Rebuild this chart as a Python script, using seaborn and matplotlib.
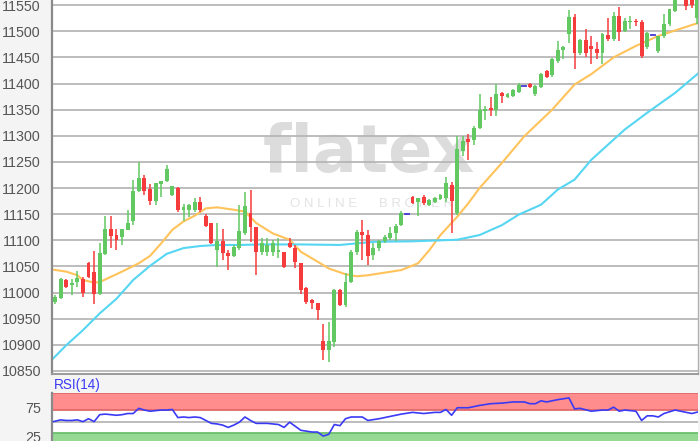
import numpy as np
import pandas as pd
import seaborn as sns
import matplotlib
matplotlib.use("Agg")
import matplotlib.pyplot as plt

# ---------------- data ----------------
opens = [10982, 10990, 11024, 11014, 11020, 11025, 11056, 11040, 10998, 11074,
         11121, 11110, 11106, 11120, 11136, 11195, 11219, 11199, 11176, 11208,
         11213, 11186, 11200, 11157, 11157, 11157, 11173, 11147, 11133, 11081,
         11099, 11076, 11070, 11085, 11113, 11152, 11126, 11078, 11078, 11078,
         11078, 11078, 11095, 11086, 11056, 11008, 10986, 10979, 10908, 10890,
         10905, 11004, 10976, 11021, 11078, 11115, 11110, 11072, 11085, 11098,
         11104, 11113, 11130, 11150, 11183, 11174, 11182, 11168, 11174, 11179,
         11180, 11206, 11152, 11271, 11294, 11292, 11315, 11347, 11354, 11350,
         11381, 11375, 11377, 11384, 11396, 11399, 11379, 11394, 11424, 11416,
         11443, 11464, 11494, 11528, 11458, 11483, 11472, 11466, 11459, 11492,
         11485, 11530, 11501, 11518, 11520, 11518, 11469, 11493, 11462, 11491,
         11514, 11539, 11575, 11575, 11560, 11525]
highs = [10996, 11027, 11026, 11025, 11042, 11030, 11058, 11080, 11094, 11147,
         11147, 11121, 11121, 11158, 11216, 11249, 11224, 11208, 11210, 11214,
         11244, 11203, 11201, 11170, 11170, 11180, 11183, 11150, 11133, 11133,
         11121, 11081, 11091, 11168, 11192, 11197, 11126, 11104, 11104, 11100,
         11104, 11078, 11104, 11091, 11056, 11011, 10988, 10979, 10940, 10944,
         11007, 11007, 11037, 11081, 11120, 11139, 11120, 11095, 11100, 11110,
         11126, 11131, 11156, 11151, 11185, 11181, 11187, 11179, 11182, 11188,
         11222, 11212, 11299, 11299, 11303, 11318, 11379, 11356, 11375, 11399,
         11383, 11381, 11389, 11401, 11397, 11401, 11398, 11421, 11426, 11449,
         11481, 11472, 11541, 11533, 11485, 11505, 11491, 11480, 11497, 11526,
         11537, 11546, 11526, 11529, 11523, 11522, 11499, 11494, 11491, 11533,
         11542, 11580, 11605, 11580, 11565, 11580]
lows = [10978, 10988, 11009, 10995, 11011, 10992, 11028, 10978, 10995, 11072,
        11085, 11081, 11090, 11120, 11130, 11192, 11186, 11167, 11167, 11183,
        11212, 11184, 11154, 11136, 11144, 11154, 11155, 11125, 11092, 11049,
        11062, 11043, 11068, 11081, 11110, 11097, 11033, 11072, 11069, 11070,
        11067, 11046, 11085, 11046, 10998, 10978, 10969, 10948, 10870, 10867,
        10895, 10974, 10972, 11018, 11072, 11062, 11053, 11062, 11080, 11094,
        11100, 11098, 11128, 11149, 11170, 11146, 11168, 11166, 11172, 11177,
        11174, 11113, 11149, 11261, 11254, 11283, 11312, 11330, 11338, 11338,
        11363, 11373, 11375, 11382, 11395, 11391, 11376, 11392, 11411, 11413,
        11440, 11447, 11478, 11427, 11455, 11450, 11437, 11447, 11437, 11482,
        11482, 11482, 11498, 11504, 11510, 11448, 11466, 11492, 11459, 11488,
        11511, 11537, 11570, 11540, 11545, 11514]
closes = [10992, 11025, 11011, 11019, 11027, 11000, 11030, 10998, 11076, 11121,
          11108, 11100, 11121, 11133, 11195, 11219, 11195, 11176, 11210, 11213,
          11237, 11203, 11157, 11163, 11167, 11173, 11157, 11127, 11094, 11099,
          11075, 11070, 11088, 11117, 11165, 11126, 11078, 11094, 11091, 11094,
          11081, 11048, 11088, 11059, 11004, 10982, 10979, 10967, 10890, 10908,
          11004, 10976, 11021, 11078, 11115, 11110, 11069, 11085, 11098, 11107,
          11113, 11128, 11153, 11150, 11172, 11180, 11172, 11177, 11180, 11186,
          11210, 11175, 11274, 11290, 11289, 11315, 11350, 11352, 11349, 11380,
          11377, 11379, 11387, 11398, 11396, 11393, 11395, 11419, 11413, 11446,
          11465, 11470, 11528, 11459, 11483, 11458, 11466, 11459, 11494, 11486,
          11530, 11498, 11520, 11520, 11517, 11452, 11497, 11493, 11491, 11514,
          11542, 11575, 11598, 11548, 11550, 11570]

ma_fast_idx = [-0.5, 2, 4, 5, 7, 8, 10, 12, 15, 17, 19, 21, 23, 25, 27, 29, 31, 34, 36,
               39, 42, 44, 47, 49, 52, 54, 56, 62, 65, 67, 69, 72, 74, 76, 80, 84,
               89, 93, 96, 100, 104, 108, 114, 115.2]
ma_fast_val = [11044, 11040, 11033, 11024, 11019, 11020, 11030, 11040, 11056, 11070,
               11094, 11120, 11136, 11147, 11161, 11163, 11160, 11155, 11133, 11113,
               11101, 11078, 11059, 11046, 11035, 11031, 11033, 11043, 11056, 11081,
               11110, 11145, 11171, 11200, 11248, 11299, 11350, 11398, 11418, 11450,
               11472, 11491, 11512, 11516]

ma_slow_idx = [-0.5, 2, 5, 8, 11, 14, 17, 20, 23, 26, 29, 33, 37, 44, 51, 57, 64, 72,
               76, 80, 83, 87, 90, 93, 96, 102, 106, 111, 115.2]
ma_slow_val = [10872, 10899, 10928, 10960, 10988, 11024, 11051, 11074, 11085, 11089,
               11091, 11091, 11092, 11092, 11091, 11097, 11098, 11101, 11110, 11129,
               11149, 11168, 11197, 11216, 11254, 11312, 11344, 11382, 11420]

rsi_idx = [-0.3, 1, 2, 3, 4, 5, 6, 7, 8, 9, 10, 11, 12, 13, 14, 15, 16, 17, 18, 19, 20,
           21, 22, 23, 24, 25, 26, 27, 28, 29, 30, 31, 32, 33, 34, 35, 36, 38, 40, 41,
           42, 44, 46, 47, 48, 49, 50, 51, 52, 53, 55, 56, 58, 60, 62, 64, 66, 68,
           69, 70, 71, 72, 74, 76, 78, 80, 82, 84, 85, 86, 87, 88, 90, 92, 93, 94,
           96, 98, 99, 100, 101, 102, 104, 105, 106, 107, 108, 109, 111, 112, 114, 115.2]
rsi_val = [50, 53, 52, 52, 53, 50, 55, 50, 62, 63, 62, 61, 62, 64, 64, 73, 70, 68, 69,
           70, 70, 71, 57, 58, 57, 58, 57, 52, 47, 46, 44, 40, 44, 49, 58, 52, 47, 47,
           45, 40, 49, 35, 32, 32, 25, 28, 45, 43, 55, 58, 58, 52, 55, 59, 63, 66, 64,
           66, 66, 71, 61, 74, 74, 78, 81, 82, 84, 84, 81, 81, 86, 84, 88, 91, 72, 73,
           68, 70, 70, 75, 68, 70, 68, 52, 60, 60, 58, 64, 70, 68, 64, 67]

price_ticks = [10850, 10900, 10950, 11000, 11050, 11100, 11150, 11200,
               11250, 11300, 11350, 11400, 11450, 11500, 11550]
rsi_ticks = [25, 75]

# ---------------- style ----------------
sns.set_theme(style="white")
plt.rcParams["font.family"] = ["Liberation Sans", "DejaVu Sans"]

GREEN = "#62c962"
RED = "#f53b3b"
DOJI = "#4a3fd0"
ORANGE = "#ffc35a"
CYAN = "#56d6f2"
RSI_BLUE = "#3a3af5"

df = pd.DataFrame({"open": opens, "high": highs, "low": lows, "close": closes})
df["idx"] = np.arange(len(df))
df["dir"] = np.where(df["close"] > df["open"], "up",
                     np.where(df["close"] < df["open"], "down", "flat"))
color_map = {"up": GREEN, "down": RED, "flat": DOJI}
df["color"] = df["dir"].map(color_map)

fig = plt.figure(figsize=(7.0, 4.41), dpi=100, facecolor="#f4f4f4")
W, H = 700.0, 441.0
ax = fig.add_axes([52 / W, 1 - 373.5 / H, (698 - 52) / W, 373.5 / H + 0.002])
ax2 = fig.add_axes([52 / W, 0, (698 - 52) / W, (441 - 392.7) / H])

# ---------------- main price panel ----------------
ax.set_facecolor("white")
ax.text(0.49, 0.585, "flatex", transform=ax.transAxes, fontsize=47,
        fontweight="bold", color="#dcdcdc", ha="center", va="center", zorder=0,
        family="DejaVu Sans")
ax.text(0.495, 0.452, "O N L I N E      B R O K E R", transform=ax.transAxes,
        fontsize=9.5, color="#e3e3e3", ha="center", va="center", zorder=0)

ax.vlines(df["idx"], df["low"], df["high"], colors=df["color"], lw=1.1, zorder=3)
body = df[df["dir"] != "flat"]
ax.bar(body["idx"], (body["close"] - body["open"]).abs(),
       bottom=body[["open", "close"]].min(axis=1), width=0.7,
       color=body["color"], linewidth=0, zorder=4)
flat = df[df["dir"] == "flat"]
ax.hlines(flat["close"], flat["idx"] - 0.5, flat["idx"] + 0.5, colors=DOJI,
          lw=1.3, zorder=4)

sns.lineplot(x=ma_fast_idx, y=ma_fast_val, ax=ax, color=ORANGE, lw=1.5, zorder=2)
sns.lineplot(x=ma_slow_idx, y=ma_slow_val, ax=ax, color=CYAN, lw=1.5, zorder=2)

ax.set_xlim(-0.54, 115.1)
ax.set_ylim(10845, 11561.5)
ax.set_yticks(price_ticks)
ax.set_xticks([])
ax.grid(axis="y", color="#b2b2b2", lw=1.2, zorder=1)
ax.set_axisbelow(True)
ax.tick_params(axis="y", length=0, pad=8, labelsize=10.3, labelcolor="#555555")
ax.spines["top"].set_visible(False)
ax.spines["left"].set_color("#8a8a8a")
ax.spines["left"].set_linewidth(1.6)
ax.spines["bottom"].set_color("#9a9a9a")
ax.spines["bottom"].set_linewidth(1.4)
ax.spines["right"].set_color("#b0b0b0")
ax.spines["right"].set_linewidth(1.0)
ax.set_xlabel("")
ax.set_ylabel("")

# ---------------- RSI panel ----------------
ax2.set_facecolor("white")
ax2.axhspan(70, 100, color="#ff8d8d", lw=0, zorder=0)
ax2.axhspan(0, 30, color="#95d995", lw=0, zorder=0)
ax2.axhline(70, color="#e06a6a", lw=1.3, zorder=1)
ax2.axhline(99.6, color="#e06a6a", lw=1.3, zorder=1)
ax2.axhline(30, color="#6cbf6c", lw=1.3, zorder=1)
ax2.axhline(50, color="#b0b0b0", lw=1.2, zorder=1)
sns.lineplot(x=rsi_idx, y=rsi_val, ax=ax2, color=RSI_BLUE, lw=1.2, zorder=3)
ax2.set_xlim(-0.54, 115.1)
ax2.set_ylim(16.5, 100)
ax2.set_yticks(rsi_ticks)
ax2.set_xticks([])
ax2.tick_params(axis="y", length=0, pad=8, labelsize=10.3, labelcolor="#555555")
for s in ["top", "right", "bottom"]:
    ax2.spines[s].set_visible(False)
ax2.spines["left"].set_color("#8a8a8a")
ax2.spines["left"].set_linewidth(1.6)
ax2.set_xlabel("")
ax2.set_ylabel("")

fig.text(54 / W, 1 - 384.5 / H, "RSI(14)", color=RSI_BLUE, fontsize=9.8,
         ha="left", va="center")

fig.savefig("out.png", dpi=100, facecolor=fig.get_facecolor())
